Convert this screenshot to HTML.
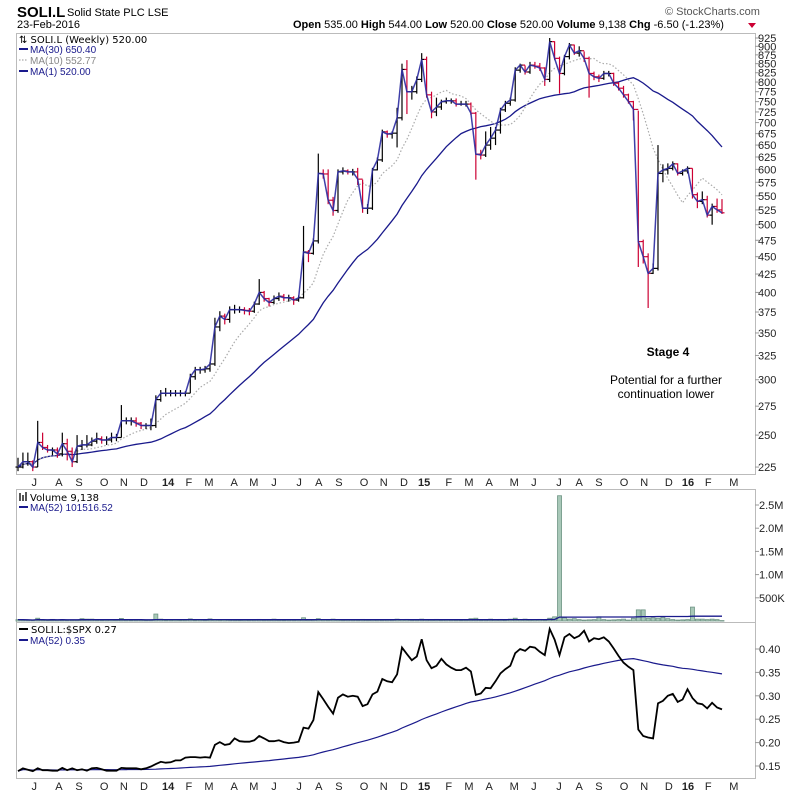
<!DOCTYPE html>
<html><head><meta charset="utf-8"><title>SOLI.L weekly chart</title>
<style>
html,body{margin:0;padding:0;background:#fff;}
svg{display:block;font-family:"Liberation Sans",sans-serif;}
.ax{font-size:11px;fill:#222;}
.lg{font-family:"DejaVu Sans",sans-serif;font-size:10px;}
</style></head>
<body>
<svg id="chart" width="800" height="795" viewBox="0 0 800 795" xmlns="http://www.w3.org/2000/svg">
  <rect x="0" y="0" width="800" height="795" fill="#fff"/>
  <!-- header -->
  <text x="17" y="17" font-size="15" font-weight="bold" fill="#000">SOLI.L</text>
  <text x="67" y="16" font-size="11" fill="#000">Solid State PLC LSE</text>
  <text x="17" y="28" font-size="11" fill="#000">23-Feb-2016</text>
  <text x="665" y="15" font-size="11" fill="#555">© StockCharts.com</text>
  <text x="293" y="28" font-size="11" fill="#000"><tspan font-weight="bold">Open</tspan> 535.00  <tspan font-weight="bold">High</tspan> 544.00  <tspan font-weight="bold">Low</tspan> 520.00  <tspan font-weight="bold">Close</tspan> 520.00  <tspan font-weight="bold">Volume</tspan> 9,138  <tspan font-weight="bold">Chg</tspan> -6.50 (-1.23%)</text>
  <polygon points="748,23 756,23 752,28" fill="#c03"/>

  <!-- panels -->
  <rect x="16.5" y="33.5" width="739" height="441" fill="none" stroke="#bbb"/>
  <rect x="16.5" y="489.5" width="739" height="133" fill="none" stroke="#bbb"/>
  <rect x="16.5" y="622.5" width="739" height="156" fill="none" stroke="#bbb"/>

  <g id="priceAxis"></g>
  <g id="volAxis"></g>
  <g id="relAxis"></g>
  <g id="dateAxis1"></g>
  <g id="dateAxis2"></g>

  <g id="ma30"></g>
  <g id="ma10"></g>
  <g id="bars"></g>
  <g id="closeLine"></g>
  <g id="volBars"></g>
  <g id="volMa"></g>
  <g id="relLines"></g>

  <!-- legends -->
  <g>
    <text x="19" y="43" class="lg" fill="#000">⇅ SOLI.L (Weekly) 520.00</text>
    <line x1="19" y1="49" x2="28" y2="49" stroke="#1a1a8c" stroke-width="2"/>
    <text x="30" y="53" font-size="10" fill="#1a1a8c">MA(30) 650.40</text>
    <line x1="19" y1="60" x2="28" y2="60" stroke="#aaa" stroke-width="1.2" stroke-dasharray="1.5,1.5"/>
    <text x="30" y="64" font-size="10" fill="#888">MA(10) 552.77</text>
    <line x1="19" y1="71" x2="28" y2="71" stroke="#1a1a8c" stroke-width="2"/>
    <text x="30" y="75" font-size="10" fill="#1a1a8c">MA(1) 520.00</text>
  </g>
  <g>
    <rect x="19" y="493" width="2" height="8" fill="#555"/><rect x="22" y="495" width="2" height="6" fill="#555"/><rect x="25" y="492" width="2" height="9" fill="#555"/>
    <text x="30" y="501" class="lg" fill="#000">Volume 9,138</text>
    <line x1="19" y1="507" x2="28" y2="507" stroke="#1a1a8c" stroke-width="2"/>
    <text x="30" y="511" font-size="10" fill="#1a1a8c">MA(52) 101516.52</text>
  </g>
  <g>
    <line x1="19" y1="629" x2="28" y2="629" stroke="#000" stroke-width="2"/>
    <text x="31" y="633" class="lg" fill="#000">SOLI.L:$SPX 0.27</text>
    <line x1="19" y1="640" x2="28" y2="640" stroke="#1a1a8c" stroke-width="2"/>
    <text x="30" y="644" font-size="10" fill="#1a1a8c">MA(52) 0.35</text>
  </g>

  <!-- annotations -->
  <text x="668" y="356" font-size="12" font-weight="bold" text-anchor="middle" fill="#000">Stage 4</text>
  <text x="666" y="384" font-size="12" text-anchor="middle" fill="#000">Potential for a further</text>
  <text x="666" y="398" font-size="12" text-anchor="middle" fill="#000">continuation lower</text>
</svg>
<script>
const closes=[225,229,229,225,244,240,238,238,235,243,237,229,241,242,242,245,247,246,246,248,248,262,262,262,260,258,258,258,281,287,287,287,287,287,287,303,310,310,311,316,357,370,366,378,378,378,377,376,385,400,392,387,392,395,393,393,390,393,457,455,474,592,591,542,524,595,597,595,595,581,528,528,599,619,679,674,676,711,834,775,775,807,862,767,725,737,750,752,752,744,744,744,722,631,629,650,665,683,730,746,754,832,846,827,846,843,838,807,914,865,823,870,904,880,887,865,823,814,810,823,823,797,784,767,750,731,473,450,426,433,592,599,602,611,592,597,602,552,540,543,516,531,525,520];
const highs=[232,236,236,230,262,252,242,240,240,252,247,240,250,246,250,248,252,249,249,252,251,276,265,265,265,261,260,264,285,290,292,290,290,290,289,306,313,313,314,318,368,376,373,382,384,382,381,380,388,418,402,393,396,400,398,397,395,396,498,460,478,632,600,600,548,600,604,600,601,603,580,535,603,624,684,682,680,735,850,860,790,815,880,870,775,760,755,760,758,758,752,752,748,725,640,680,690,690,735,752,760,840,850,845,855,855,852,840,925,915,870,875,910,905,900,885,870,828,820,830,830,825,800,790,770,752,728,476,455,440,650,610,612,616,612,600,606,602,556,558,550,536,545,544];
const lows=[222,224,226,222,225,238,236,234,232,233,230,225,228,238,240,241,243,243,242,244,245,248,259,258,257,255,255,254,256,279,284,284,284,284,284,287,300,306,307,308,314,352,360,362,373,374,372,371,374,384,388,382,385,389,389,388,384,388,392,442,453,470,582,535,515,520,590,590,588,570,520,518,525,598,615,666,664,645,705,720,755,770,800,760,710,715,730,745,745,738,740,738,718,580,620,625,640,650,675,725,740,750,825,820,822,836,830,790,800,860,770,818,862,875,870,855,760,805,800,806,815,790,778,760,745,705,435,440,380,425,430,575,590,598,588,588,592,545,528,535,512,500,520,518];
const volumes=[30,25,20,15,60,20,15,35,20,30,15,25,20,50,40,40,20,15,25,30,20,55,20,15,20,25,15,20,150,40,15,20,25,15,20,45,15,25,20,45,30,20,30,25,20,15,30,20,25,35,20,25,40,20,15,25,20,30,70,25,30,50,25,20,40,25,20,30,25,20,35,20,30,25,20,30,25,40,30,35,20,25,40,30,25,35,20,30,25,20,15,20,50,60,20,25,40,30,35,20,40,60,30,40,25,30,35,20,60,90,2700,70,40,50,30,20,25,30,90,30,20,25,30,40,20,60,240,240,60,70,60,80,50,30,20,25,30,300,40,40,30,40,30,9];
const rel=[0.139,0.145,0.142,0.139,0.145,0.141,0.141,0.140,0.140,0.146,0.141,0.145,0.141,0.143,0.140,0.145,0.146,0.143,0.140,0.140,0.140,0.146,0.145,0.145,0.145,0.143,0.145,0.149,0.154,0.159,0.157,0.158,0.162,0.162,0.168,0.169,0.169,0.168,0.169,0.168,0.195,0.201,0.195,0.197,0.209,0.203,0.202,0.202,0.205,0.214,0.209,0.203,0.203,0.205,0.201,0.199,0.200,0.202,0.232,0.230,0.248,0.308,0.293,0.277,0.262,0.296,0.303,0.298,0.300,0.298,0.278,0.282,0.303,0.309,0.336,0.331,0.329,0.346,0.403,0.389,0.376,0.384,0.421,0.376,0.359,0.364,0.379,0.367,0.360,0.355,0.355,0.360,0.352,0.302,0.305,0.317,0.316,0.331,0.348,0.357,0.364,0.391,0.400,0.396,0.405,0.403,0.394,0.387,0.443,0.420,0.387,0.425,0.432,0.423,0.428,0.439,0.416,0.423,0.421,0.425,0.416,0.401,0.385,0.371,0.362,0.355,0.228,0.214,0.211,0.209,0.284,0.289,0.300,0.304,0.287,0.292,0.314,0.295,0.284,0.282,0.273,0.285,0.275,0.271];
const priceTicks=[225,250,275,300,325,350,375,400,425,450,475,500,525,550,575,600,625,650,675,700,725,750,775,800,825,850,875,900,925];
const volTicks=[500,1000,1500,2000,2500];
const volTickLabels=['500K','1.0M','1.5M','2.0M','2.5M'];
const relTicks=[0.15,0.20,0.25,0.30,0.35,0.40];
const relTickLabels=['0.15','0.20','0.25','0.30','0.35','0.40'];
const monthLabels=['J','A','S','O','N','D','14','F','M','A','M','J','J','A','S','O','N','D','15','F','M','A','M','J','J','A','S','O','N','D','16','F','M'];
const monthWeek=[3.3,8.3,12.4,17.5,21.5,25.6,30.5,34.7,38.8,43.9,47.9,52,57.1,61.1,65.2,70.3,74.3,78.4,82.5,87.5,91.6,95.7,100.8,104.8,109.9,114,118,123.1,127.2,132.2,136.1,140.2,145.4];

const NS='http://www.w3.org/2000/svg';
function mk(tag,parent,attrs){const e=document.createElementNS(NS,tag);for(const k in attrs)e.setAttribute(k,attrs[k]);parent.appendChild(e);return e;}
function xOf(i){return 18+i*4.923;}
function yPrice(p){return 38+303.5*Math.log(925/p);}
function yVol(v){return 621-v*(116/2500);}
function yRel(v){return 649+(0.40-v)*468;}
function ma(a,n){return a.map((_,i)=>{const s=Math.max(0,i-n+1);let t=0;for(let j=s;j<=i;j++)t+=a[j];return t/(i-s+1);});}
function poly(g,vals,yf,attrs,name){const pts=vals.map((v,i)=>xOf(i).toFixed(1)+','+yf(v).toFixed(1)).join(' ');const p=mk('polyline',g,Object.assign({points:pts,fill:'none'},attrs));return p;}

// axes
const pa=document.getElementById('priceAxis');
priceTicks.forEach(t=>{const y=yPrice(t);
  const l=mk('line',pa,{x1:755,x2:759,y1:y,y2:y,stroke:'#999'});
  
  const tx=mk('text',pa,{x:758,y:y+4,class:'ax'});tx.textContent=t;
  });
const va=document.getElementById('volAxis');
volTicks.forEach((t,k)=>{const y=yVol(t);
  mk('line',va,{x1:755,x2:759,y1:y,y2:y,stroke:'#999'});
  const tx=mk('text',va,{x:759,y:y+4,class:'ax'});tx.textContent=volTickLabels[k];
  });
const ra=document.getElementById('relAxis');
relTicks.forEach((t,k)=>{const y=yRel(t);
  mk('line',ra,{x1:755,x2:759,y1:y,y2:y,stroke:'#999'});
  const tx=mk('text',ra,{x:759,y:y+4,class:'ax'});tx.textContent=relTickLabels[k];
  });
[['dateAxis1',486,474],['dateAxis2',790,778]].forEach(([id,ty,by])=>{const g=document.getElementById(id);
  monthLabels.forEach((m,k)=>{const x=xOf(monthWeek[k]);
    const big=/\d/.test(m);
    const tx=mk('text',g,{x:x,y:ty,'text-anchor':'middle',class:'ax','font-weight':big?'bold':'normal','font-size':big?'12':'11'});
    tx.textContent=m;
    
    });});

// moving averages
poly(document.getElementById('ma30'),ma(closes,30),yPrice,{stroke:'#1a1a8c','stroke-width':1.3},'ma30-path');
poly(document.getElementById('ma10'),ma(closes,10),yPrice,{stroke:'#aaa','stroke-width':1.2,'stroke-dasharray':'1.5,2'},'ma10-path');

// OHLC bars
const bg=document.getElementById('bars');
closes.forEach((c,i)=>{const o=i>0?closes[i-1]:c;const col=(i>0&&c<closes[i-1])?'#cc0033':'#000';const x=xOf(i);
  const g=mk('g',bg,{stroke:col,'stroke-width':1.2});
  
  
  mk('line',g,{x1:x,x2:x,y1:yPrice(highs[i]),y2:yPrice(lows[i])});
  mk('line',g,{x1:x-2.5,x2:x,y1:yPrice(o),y2:yPrice(o)});
  mk('line',g,{x1:x,x2:x+2.5,y1:yPrice(c),y2:yPrice(c)});});
poly(document.getElementById('closeLine'),closes,yPrice,{stroke:'#2a2aa0','stroke-width':1.5,'stroke-opacity':0.9},'close-path');

// volume
const vg=document.getElementById('volBars');
volumes.forEach((v,i)=>{const y=yVol(v);const r=mk('rect',vg,{x:xOf(i)-2,y:y,width:4,height:Math.max(0.5,621-y),fill:'#a8c8b8',stroke:'#6e9484','stroke-width':0.8});
  
  });
poly(document.getElementById('volMa'),ma(volumes,52),yVol,{stroke:'#1a1a8c','stroke-width':1.3},'volume-ma-path');

// relative strength
const rg=document.getElementById('relLines');
poly(rg,ma(rel,52),yRel,{stroke:'#1a1a8c','stroke-width':1.2},'relative-ma-path');
poly(rg,rel,yRel,{stroke:'#000','stroke-width':1.8},'relative-path');
</script>
</body></html>
